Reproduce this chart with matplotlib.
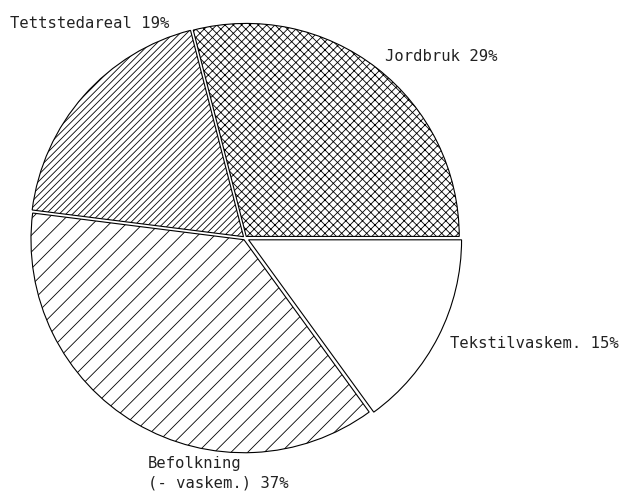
import matplotlib
matplotlib.use("Agg")
import matplotlib.pyplot as plt

# data
labels = ["Jordbruk 29%", "Tettstedareal 19%", "Befolkning\n(- vaskem.) 37%", "Tekstilvaskem. 15%"]
shares = [29, 19, 37, 15]
hatches = ["xxxx", "/////", "//", ""]
explode = [2, 2, 2, 4]  # in pixels

plt.rcParams["hatch.linewidth"] = 0.6
plt.rcParams["hatch.color"] = "black"

fig = plt.figure(figsize=(6.22, 4.93), dpi=100, facecolor="white")
ax = fig.add_axes([0, 0, 1, 1])

wedges, _ = ax.pie(shares, explode=explode, startangle=0, counterclock=True,
                   center=(245, 493 - 238), radius=213, frame=True,
                   wedgeprops=dict(facecolor="white", edgecolor="black", linewidth=0.8))
for w, h in zip(wedges, hatches):
    w.set_hatch(h)
ax.set_xlim(0, 622)
ax.set_ylim(0, 493)
ax.set_aspect("equal")
ax.set_axis_off()

# label positions (left x, baseline of last line from top, in pixels)
label_pos = [(385, 61), (10, 28), (148, 488), (450, 348)]
for txt, (x, y) in zip(labels, label_pos):
    ax.text(x, 493 - y, txt, family="DejaVu Sans Mono", fontsize=11.2,
            color="#222222", ha="left", va="baseline", linespacing=1.45)

fig.savefig("out.png", dpi=100, facecolor="white")
